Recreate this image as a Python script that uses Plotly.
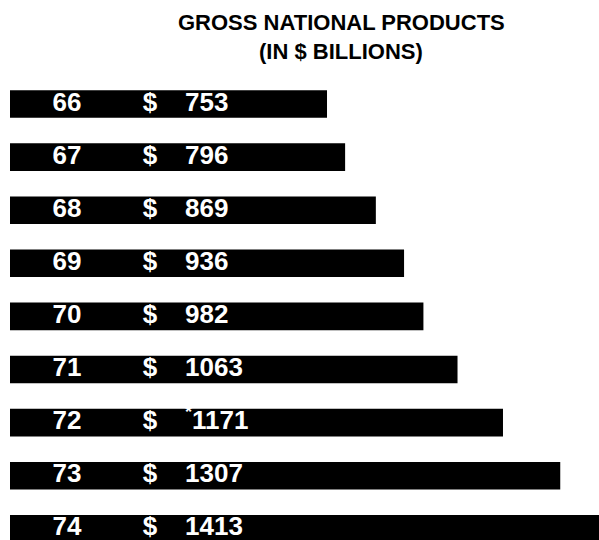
import plotly.graph_objects as go

years = ["66", "67", "68", "69", "70", "71", "72", "73", "74"]
gnp = [753, 796, 869, 936, 982, 1063, 1171, 1307, 1413]
value_labels = ["753", "796", "869", "936", "982", "1063", "<sup>*</sup>1171", "1307", "1413"]
title_line1 = "GROSS NATIONAL PRODUCTS"
title_line2 = "(IN $ BILLIONS)"

W, H = 599, 540
px_per_unit = 0.421
left_px = 10
row_px = 53.1
first_center_px = 104

idx = list(range(len(years)))
font_fam = "Liberation Sans, Arial, Helvetica, sans-serif"


def px_to_x(p):
    return (p - left_px) / px_per_unit


fig = go.Figure()
fig.add_trace(go.Bar(
    x=gnp, y=idx, orientation="h",
    marker=dict(color="black", line=dict(width=0)),
    width=0.52, hoverinfo="skip", showlegend=False,
))

txt_font = dict(family=font_fam, size=26, color="white", weight="bold")
fig.add_trace(go.Scatter(
    x=[px_to_x(67)] * len(years), y=idx, mode="text",
    text=years, textposition="middle center", textfont=txt_font,
    showlegend=False, hoverinfo="skip", cliponaxis=False,
))
fig.add_trace(go.Scatter(
    x=[px_to_x(150)] * len(years), y=idx, mode="text",
    text=["$"] * len(years), textposition="middle center", textfont=txt_font,
    showlegend=False, hoverinfo="skip", cliponaxis=False,
))
fig.add_trace(go.Scatter(
    x=[px_to_x(185)] * len(years), y=idx, mode="text",
    text=value_labels, textposition="middle right", textfont=txt_font,
    showlegend=False, hoverinfo="skip", cliponaxis=False,
))

y_top = -first_center_px / row_px
y_bot = (H - first_center_px) / row_px

title_font = dict(family=font_fam, size=22, color="black", weight="bold")
fig.update_layout(
    width=W, height=H,
    margin=dict(l=left_px, r=0, t=0, b=0),
    paper_bgcolor="white", plot_bgcolor="white",
    hovermode=False,
    xaxis=dict(range=[0, (W - left_px) / px_per_unit], visible=False, fixedrange=True),
    yaxis=dict(range=[y_bot, y_top], visible=False, fixedrange=True),
    annotations=[
        dict(text=title_line1, x=px_to_x(341), y=1 - 22 / H, xref="x", yref="paper",
             yanchor="middle", showarrow=False, font=title_font),
        dict(text=title_line2, x=px_to_x(341), y=1 - 51 / H, xref="x", yref="paper",
             yanchor="middle", showarrow=False, font=title_font),
    ],
)

fig.write_html(
    "out.html",
    config={"displayModeBar": False, "staticPlot": True},
    post_script="document.body.style.margin='0';document.body.style.overflow='hidden';",
)
